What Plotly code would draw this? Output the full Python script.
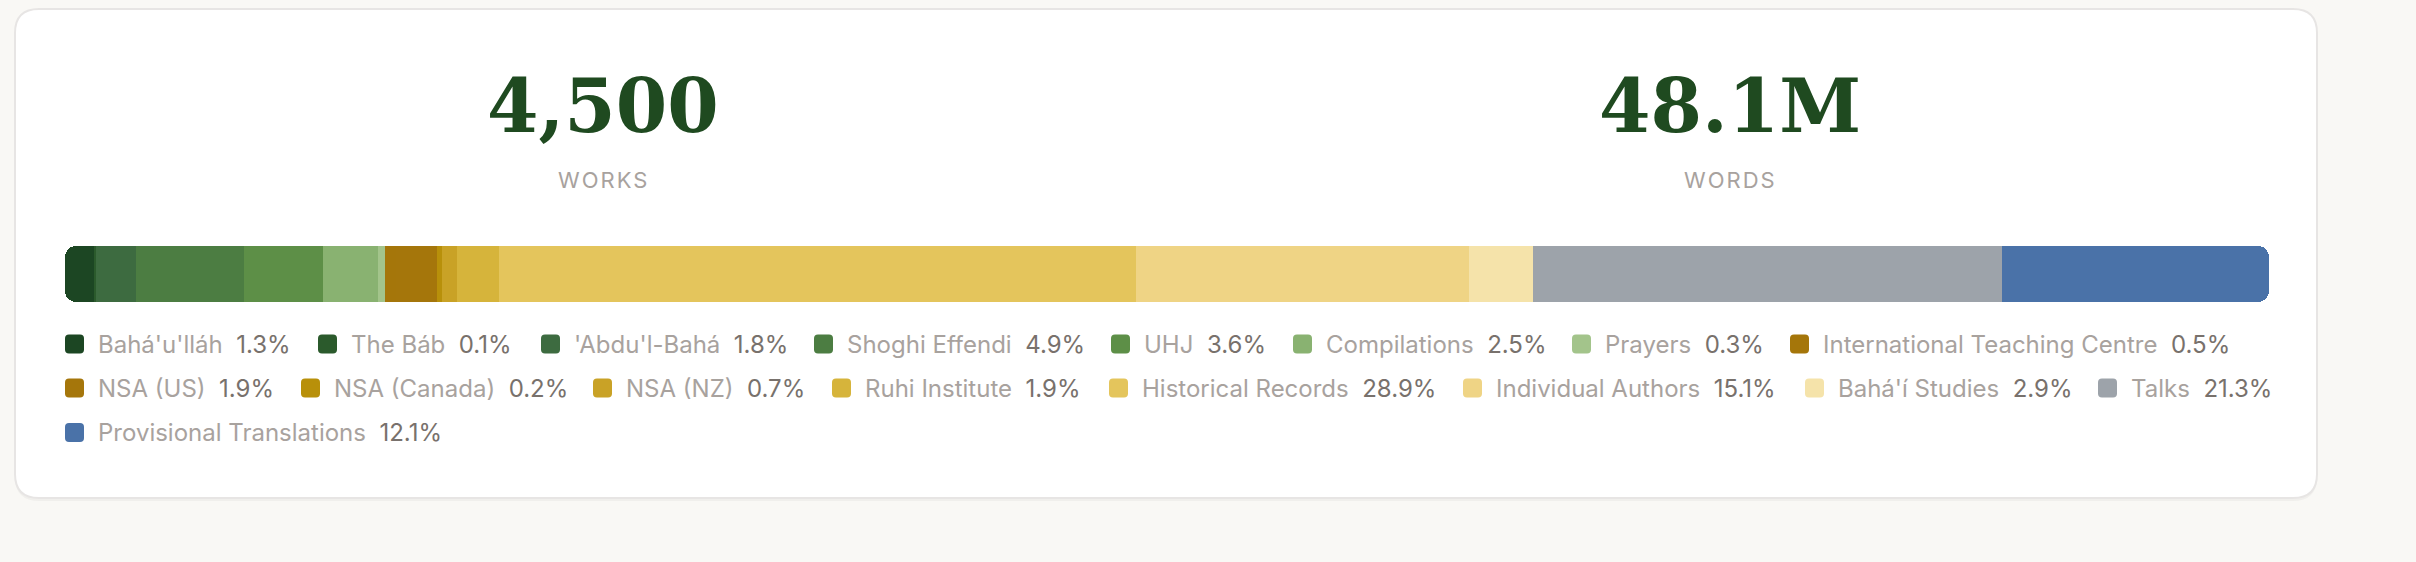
import plotly.graph_objects as go

# ============================================================
# Data
# ============================================================
labels = [
    "Bahá'u'lláh", "The Báb", "'Abdu'l-Bahá", "Shoghi Effendi", "UHJ",
    "Compilations", "Prayers", "International Teaching Centre",
    "NSA (US)", "NSA (Canada)", "NSA (NZ)", "Ruhi Institute",
    "Historical Records", "Individual Authors", "Bahá'í Studies", "Talks",
    "Provisional Translations",
]
shares = [1.3, 0.1, 1.8, 4.9, 3.6, 2.5, 0.3, 0.5, 1.9, 0.2, 0.7, 1.9,
          28.9, 15.1, 2.9, 21.3, 12.1]
colors = [
    "#1c4623", "#2b5a2c", "#3d6b40", "#4c7d42", "#5d8f47",
    "#89b271", "#a3c48b", "#a5760a", "#a5760b", "#b8900a",
    "#c9a226", "#d6b43b", "#e4c55c", "#efd485", "#f5e3aa",
    "#9da3aa", "#4a72a8",
]

stat_values = ["4,500", "48.1M"]
stat_labels = ["WORKS", "WORDS"]

# ============================================================
# Layout helpers (figure is full-bleed, so paper fraction = pixel / size)
# ============================================================
W, H = 2416, 562
PAGE_BG = "#f9f8f5"
GREEN = "#1f4a20"
LABEL_GREY = "#a8a29e"
PCT_GREY = "#78716c"


def px(x):
    return x / W


def py(y):
    return 1 - y / H


def rounded_rect(x0, y0, x1, y1, r):
    pts = [
        f"M{px(x0 + r)},{py(y0)}",
        f"L{px(x1 - r)},{py(y0)}",
        f"Q{px(x1)},{py(y0)} {px(x1)},{py(y0 + r)}",
        f"L{px(x1)},{py(y1 - r)}",
        f"Q{px(x1)},{py(y1)} {px(x1 - r)},{py(y1)}",
        f"L{px(x0 + r)},{py(y1)}",
        f"Q{px(x0)},{py(y1)} {px(x0)},{py(y1 - r)}",
        f"L{px(x0)},{py(y0 + r)}",
        f"Q{px(x0)},{py(y0)} {px(x0 + r)},{py(y0)}",
        "Z",
    ]
    return " ".join(pts)


fig = go.Figure()

# ============================================================
# Share bar: first segment stacked to the left of zero, the rest to the right,
# so that only the two outer ends of the bar get rounded
# ============================================================
for i, (name, val, col) in enumerate(zip(labels, shares, colors)):
    fig.add_trace(go.Bar(
        x=[-val if i == 0 else val], y=[0], orientation="h", name=name,
        marker=dict(color=col, line=dict(width=0)),
        width=1, showlegend=False,
        hovertemplate=f"{name}: {val}%<extra></extra>",
    ))

x_range = [-shares[0], sum(shares) - shares[0]]

# ============================================================
# Card background
# ============================================================
shapes = [
    dict(type="path", xref="paper", yref="paper", layer="below",
         path=rounded_rect(15, 12, 2317, 501, 24),
         fillcolor="rgba(0,0,0,0.035)", line=dict(width=0)),
    dict(type="path", xref="paper", yref="paper", layer="below",
         path=rounded_rect(15, 9, 2317, 498, 24),
         fillcolor="white", line=dict(color="#e7e5e4", width=2)),
]

annotations = []

# ============================================================
# Headline stats
# ============================================================
stat_x = [603, 1730]
for val, lab, cx in zip(stat_values, stat_labels, stat_x):
    annotations.append(dict(
        x=px(cx), y=py(106), xref="paper", yref="paper",
        text=val, showarrow=False, xanchor="center", yanchor="middle",
        font=dict(family="DejaVu Serif", size=74, color=GREEN, weight=700),
    ))
    annotations.append(dict(
        x=px(cx), y=py(180), xref="paper", yref="paper",
        text=f"<span style='letter-spacing:2px'>{lab}</span>",
        showarrow=False, xanchor="center", yanchor="middle",
        font=dict(family="Inter", size=22, color=LABEL_GREY),
    ))

# ============================================================
# Legend (swatch + label + share), flowed into three rows
# ============================================================
row_y = [344, 388, 432.5]
legend_rows = [0] * 8 + [1] * 8 + [2]
legend_x = [65, 318, 541, 814, 1111, 1293, 1572, 1790,
            65, 301, 593, 832, 1109, 1463, 1805, 2098,
            65]

for name, val, col, row, lx in zip(labels, shares, colors, legend_rows, legend_x):
    yc = row_y[row]
    shapes.append(dict(
        type="path", xref="paper", yref="paper",
        path=rounded_rect(lx, yc - 9.5, lx + 19, yc + 9.5, 4),
        fillcolor=col, line=dict(width=0),
    ))
    annotations.append(dict(
        x=px(lx + 31), y=py(yc), xref="paper", yref="paper",
        text=f"{name}\u00a0\u00a0<span style='color:{PCT_GREY}'>{val:.1f}%</span>",
        showarrow=False, xanchor="left", yanchor="middle",
        font=dict(family="Inter", size=24, color=LABEL_GREY),
    ))

fig.update_layout(
    width=W, height=H,
    margin=dict(l=0, r=0, t=0, b=0),
    paper_bgcolor=PAGE_BG,
    plot_bgcolor="rgba(0,0,0,0)",
    barmode="relative",
    barcornerradius=11,
    bargap=0,
    showlegend=False,
    xaxis=dict(domain=[px(65), px(2269)], range=x_range, visible=False, fixedrange=True),
    yaxis=dict(domain=[py(302), py(246)], range=[-0.5, 0.5], visible=False, fixedrange=True),
    shapes=shapes,
    annotations=annotations,
)

# page body has a default 8px margin; drop it so the figure fills the window
fig.write_html(
    "out.html",
    config={"displayModeBar": False},
    post_script="document.body.style.margin='0';"
                "document.body.style.background='" + PAGE_BG + "';",
)
